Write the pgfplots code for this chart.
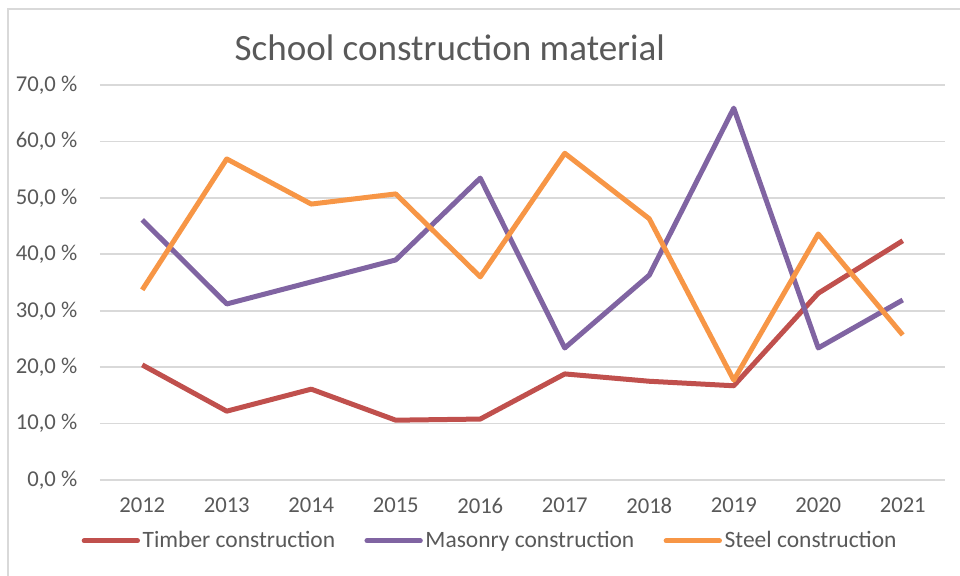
\documentclass[border=0pt]{standalone}
\usepackage{fontspec}
\setmainfont{Carlito}
\usepackage{pgfplots}
\pgfplotsset{compat=1.18}
\definecolor{timber}{HTML}{C0504D}
\definecolor{masonry}{HTML}{8064A2}
\definecolor{steel}{HTML}{F79646}
\definecolor{txt}{HTML}{595959}
\definecolor{gridgray}{HTML}{D9D9D9}
\begin{document}
\begin{tikzpicture}
\useasboundingbox (-75pt,-71.25pt) rectangle (645pt,360pt);
\draw[gridgray, line width=1.5pt] (-69pt,-80pt) -- (-69pt,353.25pt) -- (660pt,353.25pt);
\begin{axis}[
  at={(0pt,0pt)}, anchor=south west,
  scale only axis,
  width=633.75pt, height=296.25pt,
  xmin=-0.5, xmax=9.5, ymin=0, ymax=70,
  axis line style={draw=none},
  xtick={0,...,9},
  xticklabels={2012,2013,2014,2015,2016,2017,2018,2019,2020,2021},
  ytick={0,10,...,70},
  yticklabels={{0,0 \%},{10,0 \%},{20,0 \%},{30,0 \%},{40,0 \%},{50,0 \%},{60,0 \%},{70,0 \%}},
  tick style={draw=none},
  ymajorgrids, xmajorgrids=false,
  major grid style={draw=gridgray, line width=1.2pt},
  tick label style={font=\fontsize{17}{20}\selectfont, text=txt},
  yticklabel style={xshift=-13.5pt},
  xticklabel style={yshift=-10pt},
  legend columns=3,
  legend style={draw=none, fill=none, at={(-0.022,-0.154)}, anchor=west,
    font=\fontsize{17.6}{21}\selectfont, text=txt,
    /tikz/every even column/.append style={column sep=20pt},
    inner sep=0pt},
  legend image code/.code={\draw[#1, line cap=round] (0pt,0pt) -- (40pt,0pt);},
  every axis plot/.append style={line width=3.75pt, line join=round},
  clip=false,
]
\addplot[timber] coordinates {(0,20.4)(1,12.2)(2,16.1)(3,10.6)(4,10.8)(5,18.8)(6,17.5)(7,16.7)(8,33.1)(9,42.4)};
\addlegendentry{Timber construction}
\addplot[masonry] coordinates {(0,46.1)(1,31.2)(2,35.1)(3,39.0)(4,53.5)(5,23.4)(6,36.3)(7,65.9)(8,23.4)(9,31.9)};
\addlegendentry{Masonry construction}
\addplot[steel] coordinates {(0,33.7)(1,56.9)(2,48.9)(3,50.7)(4,36.0)(5,57.9)(6,46.3)(7,17.7)(8,43.6)(9,25.7)};
\addlegendentry{Steel construction}
\node[text=txt, font=\fontsize{27.8}{32}\selectfont] at (rel axis cs:0.414,1.094) {School construction material};
\end{axis}
\end{tikzpicture}
\end{document}
